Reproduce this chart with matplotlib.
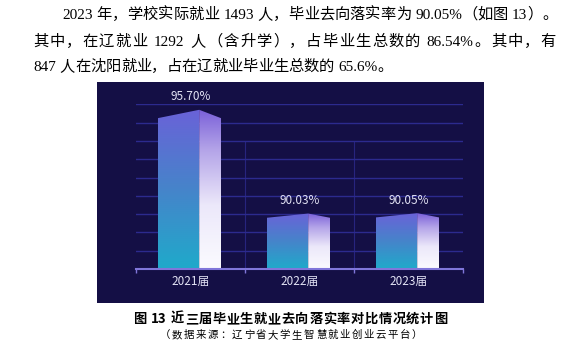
import re
import numpy as np
import matplotlib
matplotlib.use("Agg")
import matplotlib.pyplot as plt
from matplotlib.patches import Polygon, Rectangle
from matplotlib.colors import LinearSegmentedColormap

# ---------------- data ----------------
categories = ["2021届", "2022届", "2023届"]
rates = [95.70, 90.03, 90.05]
value_labels = ["95.70%", "90.03%", "90.05%"]
y_min, y_max = 87, 96

para_lines = [
    "2023 年，学校实际就业 1493 人，毕业去向落实率为 90.05%（如图 13）。",
    "其中，在辽就业 1292 人（含升学），占毕业生总数的 86.54%。其中，有",
    "847 人在沈阳就业，占在辽就业毕业生总数的 65.6%。",
]
caption = "图 13 近三届毕业生就业去向落实率对比情况统计图"
source = "（数据来源：辽宁省大学生智慧就业创业云平台）"

# ---------------- figure ----------------
W, H = 577, 351
DPI = 100
fig = plt.figure(figsize=(W / DPI, H / DPI), dpi=DPI, facecolor="white")
renderer = fig.canvas.get_renderer()

SERIF = ["Liberation Serif", "Noto Sans CJK SC", "DejaVu Sans"]
SANS = ["Noto Sans CJK SC", "DejaVu Sans"]


def fx(x):
    return x / W


def fy(y):
    return 1 - y / H


def place_line(s, x_left, y_base, size, x_right=None, family=SERIF,
               weight="normal", color="black"):
    tokens = re.findall(r"[A-Za-z0-9.%]+| |.", s)
    texts, widths = [], []
    for tk in tokens:
        if tk == " ":
            texts.append(None)
            widths.append(0.25 * size * DPI / 72)
            continue
        t = fig.text(0, 0, tk, fontsize=size, family=family, weight=weight,
                     color=color, ha="left", va="baseline")
        w = t.get_window_extent(renderer).width
        texts.append(t)
        widths.append(w)
    total = sum(widths)
    gap = 0.0
    if x_right is not None and len(tokens) > 1:
        gap = (x_right - x_left - total) / (len(tokens) - 1)
    x = x_left
    for t, w in zip(texts, widths):
        if t is not None:
            t.set_position((fx(x), fy(y_base)))
        x += w + gap


# paragraph
place_line(para_lines[0], 62, 19, 11, x_right=558)
place_line(para_lines[1], 33, 46, 11, x_right=556)
place_line(para_lines[2], 33, 71, 11)

# dark panel
fig.add_artist(Rectangle((fx(97), fy(303)), (484 - 97) / W, (303 - 82) / H,
                         transform=fig.transFigure, facecolor="#140f45",
                         edgecolor="none", zorder=0))

# chart axes
ax = fig.add_axes([fx(136), fy(269), (463 - 136) / W, (269 - 104.3) / H])
ax.set_facecolor("none")
ax.set_xlim(-0.5, len(categories) - 0.5)
ax.set_ylim(y_min, y_max)
for sp in ["left", "right", "top"]:
    ax.spines[sp].set_visible(False)
ax.spines["bottom"].set_color("#8076da")
ax.spines["bottom"].set_linewidth(1.5)
ax.set_yticks(np.arange(y_min + 1, y_max + 1))
ax.tick_params(axis="y", length=0, labelleft=False)
ax.grid(axis="y", color="#2c2a8e", lw=1.0)
ax.set_axisbelow(True)
ax.set_xticks(np.arange(-0.5, len(categories)), minor=True)
ax.set_xticks([])
ax.tick_params(axis="x", which="minor", length=3, width=1, color="#8076da",
               direction="out")
ax.vlines([0.5, 1.5], y_min, 94, color="#27247e", lw=0.8, zorder=0.5)

front_cmap = LinearSegmentedColormap.from_list(
    "front", [(0, "#1faaca"), (0.5, "#4684ca"), (1, "#6a62d8")])
side_cmap = LinearSegmentedColormap.from_list(
    "side", [(0, "#fbfbff"), (0.4, "#ece8fa"), (0.75, "#b3a3e8"), (1, "#7a60d9")])
grad = np.linspace(0, 1, 256).reshape(-1, 1)
px_per_unit = (269 - 104.3) / (y_max - y_min)

for i, v in enumerate(rates):
    x0, xr, x1 = i - 0.30, i + 0.08, i + 0.28
    h_px = (v - y_min) * px_per_unit
    d = (2 + 0.04 * h_px) / px_per_unit
    front = Polygon([(x0, y_min), (x0, v - d), (xr, v), (xr, y_min)],
                    closed=True, facecolor="none", edgecolor="none")
    side = Polygon([(xr, y_min), (xr, v), (x1, v - d), (x1, y_min)],
                   closed=True, facecolor="none", edgecolor="none")
    ax.add_patch(front)
    ax.add_patch(side)
    im1 = ax.imshow(grad, cmap=front_cmap, extent=[x0, xr, y_min, v],
                    origin="lower", aspect="auto", interpolation="bilinear",
                    zorder=2)
    im1.set_clip_path(front)
    im2 = ax.imshow(grad, cmap=side_cmap, extent=[xr, x1, y_min, v],
                    origin="lower", aspect="auto", interpolation="bilinear",
                    zorder=2)
    im2.set_clip_path(side)
    ax.annotate(value_labels[i], (i, v), xytext=(0, 13 * 72 / DPI),
                textcoords="offset points", ha="center", va="center",
                color="#e2e2f4", fontsize=8.5, family=SANS)
    ax.annotate(categories[i], (i, y_min), xytext=(0, -12.7 * 72 / DPI),
                textcoords="offset points", ha="center", va="center",
                color="#e2e2f4", fontsize=8.5, family=SANS, annotation_clip=False)

ax.set_xlim(-0.5, len(categories) - 0.5)
ax.set_ylim(y_min, y_max)

# caption
place_line(caption, 133, 323, 9.5, x_right=447, family=SANS, weight="bold")
place_line(source, 160, 338, 7.5, x_right=422, family=SANS)

fig.savefig("out.png", dpi=DPI, facecolor="white")
